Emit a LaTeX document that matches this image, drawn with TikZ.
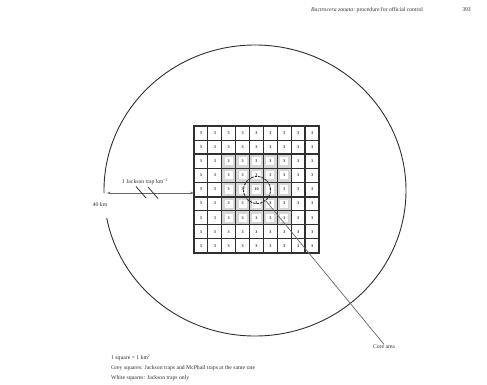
\documentclass[tikz,border=0pt]{standalone}
\usepackage{fontspec}
\setmainfont{Liberation Serif}
\usetikzlibrary{arrows.meta}
\definecolor{greyfill}{HTML}{D6D6D6}
\definecolor{ink}{HTML}{303030}
\begin{document}
\begin{tikzpicture}[x=1pt,y=-1pt,
  txt/.style={inner sep=0pt, text=ink, font=\fontsize{5.7}{6.5}\selectfont},
  cellbox/.style={fill=white, draw=none, minimum size=8.2pt, inner sep=0pt, text=ink, font=\fontsize{4.2}{4.5}\selectfont\bfseries},
  gridthin/.style={line width=1.1pt, draw=ink},
  gridthick/.style={line width=1.9pt, draw=ink},
  conn/.style={line width=0.7pt, draw=gray!80!black}]
\useasboundingbox (0,0) rectangle (487,385);
% header
\node[txt, anchor=base west] (hdr) at (311,12) {\textit{Bactrocera zonata}: procedure for official control};
\node[txt, anchor=base east] (pg) at (471,12) {393};
% grid
\def\gx{194}\def\gy{126}\def\cw{13.889}\def\ch{14.111}
\node[minimum width=125pt, minimum height=127pt, inner sep=0pt] (grid) at (256.5,189.5) {};
\fill[greyfill] (\gx+2*\cw,\gy+2*\ch) rectangle (\gx+7*\cw,\gy+7*\ch);
\foreach \i in {0,...,8}{
  \foreach \j in {0,...,8}{
    \ifnum\i=4 \ifnum\j=4
      \node[cellbox] (c\i\j) at (\gx+\i*\cw+\cw/2,\gy+\j*\ch+\ch/2) {10};
    \else
      \node[cellbox] (c\i\j) at (\gx+\i*\cw+\cw/2,\gy+\j*\ch+\ch/2) {3};
    \fi\else
      \node[cellbox] (c\i\j) at (\gx+\i*\cw+\cw/2,\gy+\j*\ch+\ch/2) {3};
    \fi
  }
}
\foreach \k in {1,...,8}{
  \draw[gridthin] (\gx+\k*\cw,\gy) -- (\gx+\k*\cw,\gy+9*\ch);
  \draw[gridthin] (\gx,\gy+\k*\ch) -- (\gx+9*\cw,\gy+\k*\ch);
}
\draw[gridthick] (\gx+8*\cw,\gy) -- (\gx+8*\cw,\gy+9*\ch);
\draw[gridthick] (\gx,\gy+2*\ch) -- (\gx+9*\cw,\gy+2*\ch);
\draw[gridthick] (\gx,\gy+5*\ch) -- (\gx+9*\cw,\gy+5*\ch);
\draw[gridthick] (\gx,\gy) rectangle (\gx+9*\cw,\gy+9*\ch);
% big circle with gap at left
\draw[line width=0.9pt, draw=ink] (104.02,193.04) arc[start angle=179, end angle=529.1, x radius=151, y radius=145.5];
% core circle
\node[circle, draw=ink, dash pattern=on 2.5pt off 1pt, line width=0.9pt, minimum size=27pt, inner sep=0pt] (core) at (257,190) {};
% core label and leader
\node[txt] (corelbl) at (384,346.5) {Core area};
\draw[conn] (core) -- (corelbl.north);
% distance arrow
\coordinate (al) at (107,193);
\draw[conn, {Stealth[length=3.5pt,width=2.6pt]}-{Stealth[length=3.5pt,width=2.6pt]}] (al) -- (al -| grid.west);
\draw[line width=0.8pt, draw=ink] (136,186.5) -- (146,198);
\draw[line width=0.8pt, draw=ink] (148,187) -- (158,198.5);
\node[txt] (arrlbl) at (145,182) {1 Jackson trap km\textsuperscript{−2}};
\node[txt] (km) at (100,204.5) {40 km};
% legend
\node[txt, anchor=west] (leg1) at (111,358) {1 square = 1 km\textsuperscript{2}};
\node[txt, anchor=west] (leg2) at (111,368) {Grey squares: Jackson traps and McPhail traps at the same rate};
\node[txt, anchor=west] (leg3) at (111,378) {White squares: Jackson traps only};
\end{tikzpicture}
\end{document}
